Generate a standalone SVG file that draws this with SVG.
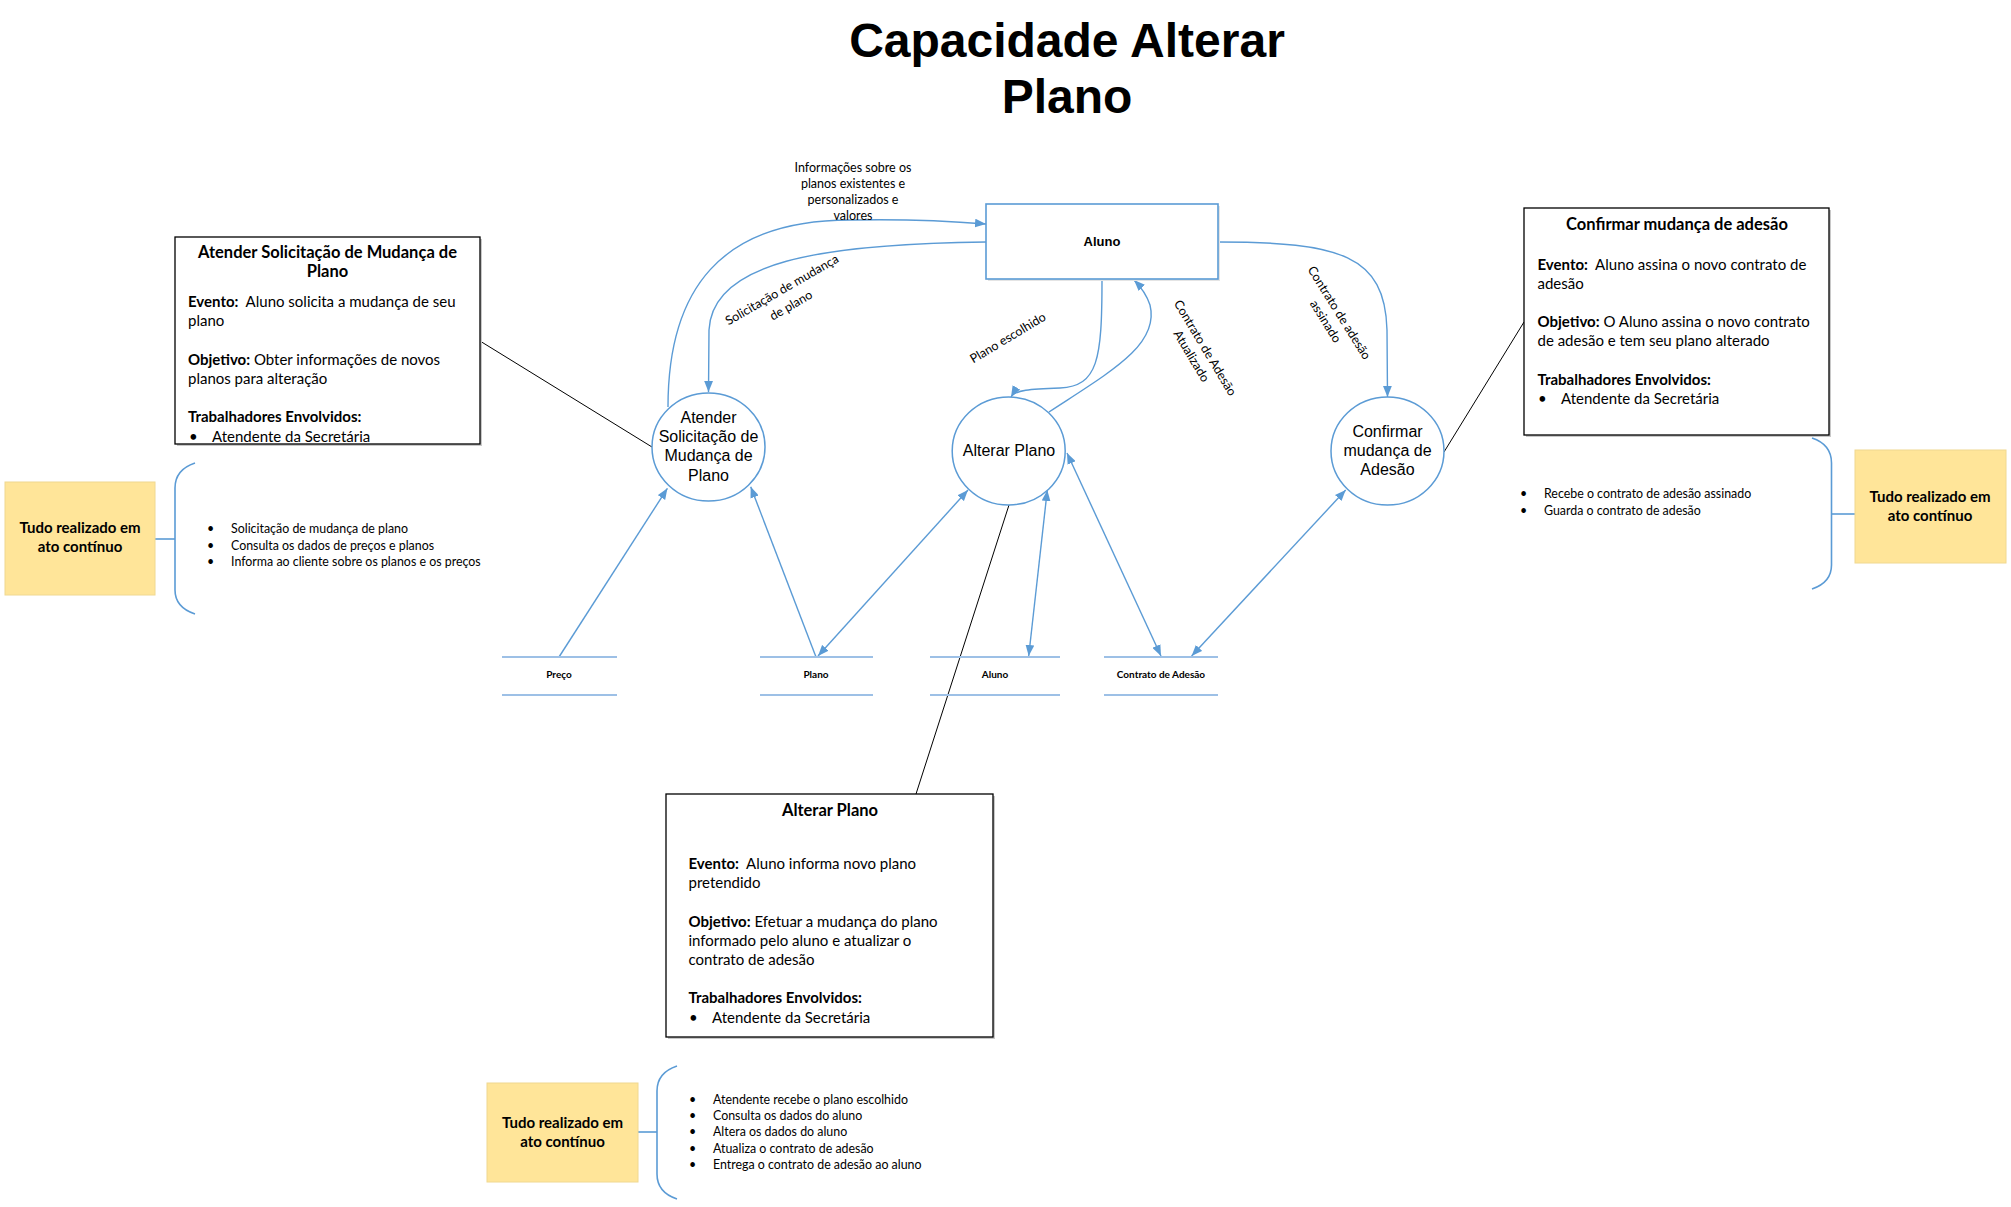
<svg xmlns="http://www.w3.org/2000/svg" width="2011" height="1207" viewBox="0 0 2011 1207">
<style>
.t{font-family:Lato,"Open Sans","Liberation Sans",sans-serif;fill:#000;white-space:pre}
.bx{font-size:15px}
.b{font-weight:bold}
.ht{font-size:16.5px;font-weight:bold}
.li{font-size:12.4px}
.lb{font-size:12.5px}
.st{font-size:10px;font-weight:bold}
.ar{font-family:"Liberation Sans",Arial,sans-serif;fill:#000}
.blue{fill:none;stroke:#5B9BD5;stroke-width:1.4}
.blk{fill:none;stroke:#000;stroke-width:1}
.store{stroke:#9DC0E6;stroke-width:2.2}
.circ{fill:#fff;stroke:#5B9BD5;stroke-width:1.5}
.box{fill:#fff;stroke:#000;stroke-width:1.3}
.shd{fill:#c8c8c8}
.yel{fill:#FFE599;stroke:#F0D890;stroke-width:1}
.brace{fill:none;stroke:#5B9BD5;stroke-width:1.6}
</style>
<defs>
<marker id="ah" viewBox="0 0 10 8" refX="10" refY="4" markerWidth="11" markerHeight="9" markerUnits="userSpaceOnUse" orient="auto-start-reverse"><path d="M0,0 L10,4 L0,8 z" fill="#5B9BD5"/></marker>
</defs>
<rect width="2011" height="1207" fill="#fff"/>

<g id="title">
<text class="ar" font-size="48" font-weight="bold" text-anchor="middle"><tspan x="1067" y="57">Capacidade Alterar</tspan><tspan x="1067" y="113">Plano</tspan></text>
</g>

<g id="connectors">
<path class="blue" d="M668,407 C668,290 720,220 850,220 C900,219 950,221 986,224" marker-end="url(#ah)"/>
<path class="blue" d="M986,242 C820,244 712,262 709,330 L708.5,392" marker-end="url(#ah)"/>
<path class="blue" d="M1102,279 C1102,360 1098,386 1060,388 C1030,389 1015,390 1011,397" marker-end="url(#ah)"/>
<path class="blue" d="M1049,412 C1110,372 1160,345 1150,305 C1146,293 1140,286 1134,280" marker-end="url(#ah)"/>
<path class="blue" d="M1218,242 C1340,242 1385,255 1387,330 L1387.5,397" marker-end="url(#ah)"/>
<path class="blue" d="M559,657 L667.4,488.3" marker-end="url(#ah)"/>
<path class="blue" d="M816,657 L750.7,486.7" marker-end="url(#ah)"/>
<path class="blue" d="M818,656 L968,490" marker-start="url(#ah)" marker-end="url(#ah)"/>
<path class="blue" d="M1028.7,656 L1047.3,490" marker-start="url(#ah)" marker-end="url(#ah)"/>
<path class="blue" d="M1161,656 L1067,453" marker-start="url(#ah)" marker-end="url(#ah)"/>
<path class="blue" d="M1191.6,656 L1345.7,490" marker-start="url(#ah)" marker-end="url(#ah)"/>
<path class="blk" d="M480,341 L652,447"/>
<path class="blk" d="M1009,505 L916,794"/>
<path class="blk" d="M1444,452 L1524,322"/>
<path class="brace" d="M155,539 L175,539"/>
<path class="brace" d="M1831.5,514 L1855,514"/>
<path class="brace" d="M638,1132 L657,1132"/>
</g>

<g id="labels">
<text class="t lb" text-anchor="middle"><tspan x="853" y="172">Informações sobre os</tspan><tspan x="853" y="188">planos existentes e</tspan><tspan x="853" y="204">personalizados e</tspan><tspan x="853" y="220">valores</tspan></text>
<text class="t lb" text-anchor="middle" transform="translate(782,290) rotate(-30)"><tspan x="0" y="4">Solicitação de mudança</tspan><tspan x="0" y="22">de plano</tspan></text>
<text class="t lb" text-anchor="middle" transform="translate(1008,338) rotate(-31)"><tspan x="0" y="4">Plano escolhido</tspan></text>
<text class="t lb" text-anchor="middle" transform="translate(1205,348) rotate(59)"><tspan x="0" y="4">Contrato de Adesão</tspan><tspan x="0" y="20">Atualizado</tspan></text>
<text class="t lb" text-anchor="middle" transform="translate(1339,313) rotate(58)"><tspan x="0" y="4">Contrato de adesão</tspan><tspan x="0" y="20">assinado</tspan></text>
</g>

<g id="aluno">
<rect x="988" y="206" width="232" height="75" fill="#e4e4e4"/>
<rect x="986" y="204" width="232" height="75" fill="#fff" stroke="#5B9BD5" stroke-width="1.6"/>
<text class="ar" font-size="13" font-weight="bold" text-anchor="middle" x="1102" y="246">Aluno</text>
</g>

<g id="p-atender">
<ellipse class="circ" cx="708.5" cy="447" rx="56.5" ry="54"/>
<text class="ar" font-size="16" text-anchor="middle"><tspan x="708.5" y="423">Atender</tspan><tspan x="708.5" y="442">Solicitação de</tspan><tspan x="708.5" y="461">Mudança de</tspan><tspan x="708.5" y="480.5">Plano</tspan></text>
</g>

<g id="p-alterar">
<ellipse class="circ" cx="1008.7" cy="451" rx="56.5" ry="54"/>
<text class="ar" font-size="16" text-anchor="middle" x="1009" y="456">Alterar Plano</text>
</g>

<g id="p-confirmar">
<ellipse class="circ" cx="1387.5" cy="451" rx="56.5" ry="54"/>
<text class="ar" font-size="16" text-anchor="middle"><tspan x="1387.5" y="437">Confirmar</tspan><tspan x="1387.5" y="456">mudança de</tspan><tspan x="1387.5" y="474.5">Adesão</tspan></text>
</g>

<g id="s-preco">
<line class="store" x1="502" y1="657" x2="617" y2="657"/><line class="store" x1="502" y1="695" x2="617" y2="695"/>
<text class="t st" text-anchor="middle" x="559" y="678">Preço</text>
</g>
<g id="s-plano">
<line class="store" x1="760" y1="657" x2="873" y2="657"/><line class="store" x1="760" y1="695" x2="873" y2="695"/>
<text class="t st" text-anchor="middle" x="816" y="678">Plano</text>
</g>
<g id="s-aluno">
<line class="store" x1="930" y1="657" x2="1060" y2="657"/><line class="store" x1="930" y1="695" x2="1060" y2="695"/>
<text class="t st" text-anchor="middle" x="995" y="678">Aluno</text>
</g>
<g id="s-contrato">
<line class="store" x1="1104" y1="657" x2="1218" y2="657"/><line class="store" x1="1104" y1="695" x2="1218" y2="695"/>
<text class="t st" text-anchor="middle" x="1161" y="678">Contrato de Adesão</text>
</g>

<g id="d-atender">
<rect class="shd" x="177" y="239" width="305" height="207"/>
<rect class="box" x="175" y="237" width="305" height="207"/>
<text class="t ht" text-anchor="middle"><tspan x="327.5" y="258">Atender Solicitação de Mudança de</tspan><tspan x="327.5" y="277">Plano</tspan></text>
<text class="t bx"><tspan x="188" y="307"><tspan class="b">Evento:</tspan>  Aluno solicita a mudança de seu</tspan><tspan x="188" y="326">plano</tspan><tspan x="188" y="365"><tspan class="b">Objetivo:</tspan> Obter informações de novos</tspan><tspan x="188" y="384">planos para alteração</tspan><tspan x="188" y="422" class="b">Trabalhadores Envolvidos:</tspan></text>
<text class="t bx"><tspan x="189" y="441.5">•</tspan><tspan x="212" y="441.5">Atendente da Secretária</tspan></text>
</g>

<g id="d-alterar">
<rect class="shd" x="668" y="796" width="327" height="243"/>
<rect class="box" x="666" y="794" width="327" height="243"/>
<text class="t ht" text-anchor="middle" x="830" y="816">Alterar Plano</text>
<text class="t bx"><tspan x="688.5" y="869"><tspan class="b">Evento:</tspan>  Aluno informa novo plano</tspan><tspan x="688.5" y="887.5">pretendido</tspan><tspan x="688.5" y="926.5"><tspan class="b">Objetivo:</tspan> Efetuar a mudança do plano</tspan><tspan x="688.5" y="945.5">informado pelo aluno e atualizar o</tspan><tspan x="688.5" y="964.5">contrato de adesão</tspan><tspan x="688.5" y="1002.5" class="b">Trabalhadores Envolvidos:</tspan><tspan x="689" y="1022.5">•</tspan><tspan x="712" y="1022.5">Atendente da Secretária</tspan></text>
</g>

<g id="d-confirmar">
<rect class="shd" x="1526" y="210" width="305" height="227"/>
<rect class="box" x="1524" y="208" width="305" height="227"/>
<text class="t ht" text-anchor="middle" x="1677" y="230">Confirmar mudança de adesão</text>
<text class="t bx"><tspan x="1537.5" y="270"><tspan class="b">Evento:</tspan>  Aluno assina o novo contrato de</tspan><tspan x="1537.5" y="289">adesão</tspan><tspan x="1537.5" y="327"><tspan class="b">Objetivo:</tspan> O Aluno assina o novo contrato</tspan><tspan x="1537.5" y="346">de adesão e tem seu plano alterado</tspan><tspan x="1537.5" y="384.5" class="b">Trabalhadores Envolvidos:</tspan><tspan x="1538" y="403.5">•</tspan><tspan x="1561" y="403.5">Atendente da Secretária</tspan></text>
</g>

<g id="n-left">
<rect class="yel" x="5" y="482" width="150" height="113"/>
<text class="t b" font-size="15" text-anchor="middle"><tspan x="80" y="533">Tudo realizado em</tspan><tspan x="80" y="552">ato contínuo</tspan></text>
<path class="brace" d="M195,463 C183,467 175,475 175,488 L175,590 C175,603 183,610 195,614"/>
<text class="t li"><tspan x="207" y="533">•</tspan><tspan x="231" y="533">Solicitação de mudança de plano</tspan><tspan x="207" y="550">•</tspan><tspan x="231" y="550">Consulta os dados de preços e planos</tspan><tspan x="207" y="566">•</tspan><tspan x="231" y="566">Informa ao cliente sobre os planos e os preços</tspan></text>
</g>

<g id="n-right">
<rect class="yel" x="1855" y="450" width="151" height="113"/>
<text class="t b" font-size="15" text-anchor="middle"><tspan x="1930" y="502">Tudo realizado em</tspan><tspan x="1930" y="520.5">ato contínuo</tspan></text>
<path class="brace" d="M1812,438 C1824,442 1831.5,450 1831.5,463 L1831.5,565 C1831.5,578 1824,585 1812,589"/>
<text class="t li"><tspan x="1520" y="498">•</tspan><tspan x="1544" y="498">Recebe o contrato de adesão assinado</tspan><tspan x="1520" y="515">•</tspan><tspan x="1544" y="515">Guarda o contrato de adesão</tspan></text>
</g>

<g id="n-bottom">
<rect class="yel" x="487" y="1083" width="151" height="99"/>
<text class="t b" font-size="15" text-anchor="middle"><tspan x="562.5" y="1128">Tudo realizado em</tspan><tspan x="562.5" y="1147">ato contínuo</tspan></text>
<path class="brace" d="M677,1066 C665,1070 657,1078 657,1091 L657,1174 C657,1187 665,1195 677,1199"/>
<text class="t li"><tspan x="689" y="1103.5">•</tspan><tspan x="713" y="1103.5">Atendente recebe o plano escolhido</tspan><tspan x="689" y="1119.5">•</tspan><tspan x="713" y="1119.5">Consulta os dados do aluno</tspan><tspan x="689" y="1136">•</tspan><tspan x="713" y="1136">Altera os dados do aluno</tspan><tspan x="689" y="1152.5">•</tspan><tspan x="713" y="1152.5">Atualiza o contrato de adesão</tspan><tspan x="689" y="1168.5">•</tspan><tspan x="713" y="1168.5">Entrega o contrato de adesão ao aluno</tspan></text>
</g>
</svg>
